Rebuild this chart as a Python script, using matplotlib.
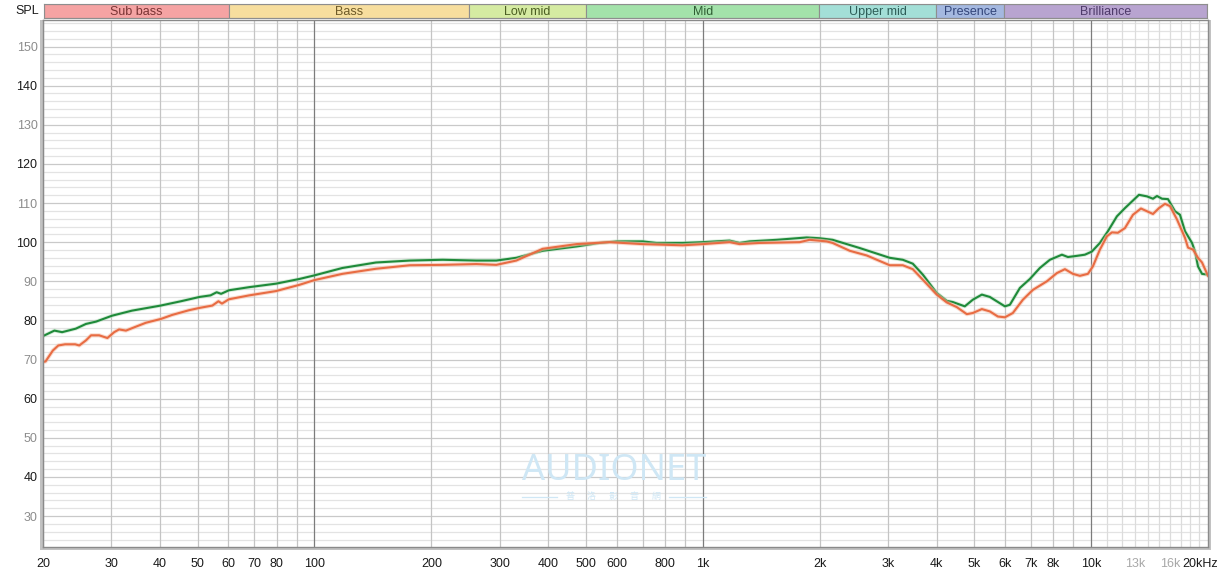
import numpy as np
import matplotlib
matplotlib.use('Agg')
import matplotlib.pyplot as plt
from matplotlib.transforms import ScaledTranslation

# ---------------- data ----------------
green_freq = [20, 21.4, 22.4, 24.3, 25.8, 27.4, 30.1, 33.9, 40.2, 45.3, 50.6, 54.0, 56.0, 57.5, 60.2,
              67.9, 79.7, 91.5, 99.9, 118, 144, 176, 214, 261, 294, 331, 387, 473, 542, 600, 700,
              760, 887, 1000, 1172, 1244, 1320, 1550, 1852, 2000, 2160, 2536, 3030, 3274, 3474,
              3687, 4004, 4250, 4404, 4729, 4960, 5232, 5486, 5998, 6178, 6556, 6956, 7379, 7832,
              8411, 8716, 9193, 9638, 10046, 10535, 11048, 11654, 12222, 12742, 13282, 13928,
              14432, 14780, 15224, 15776, 16444, 16938, 17450, 18192, 18518, 18850, 19304, 20000]
green_db = [76.0, 77.4, 77.0, 77.9, 79.1, 79.7, 81.2, 82.5, 83.8, 84.9, 86.0, 86.4, 87.2, 86.8, 87.7,
            88.5, 89.4, 90.6, 91.5, 93.4, 94.8, 95.3, 95.5, 95.3, 95.3, 96.0, 97.8, 98.9, 99.8, 100.2, 100.2,
            99.8, 99.8, 100.0, 100.4, 99.8, 100.2, 100.6, 101.2, 101.0, 100.6, 98.5, 96.0, 95.5, 94.5,
            91.7, 87.0, 85.0, 84.7, 83.6, 85.3, 86.6, 86.0, 83.6, 84.0, 88.3, 90.6, 93.4, 95.5,
            96.8, 96.2, 96.5, 96.8, 97.6, 99.8, 102.8, 106.6, 108.7, 110.4, 112.1, 111.7,
            111.1, 111.8, 111.1, 111.0, 107.9, 107.0, 102.8, 99.8, 97.6, 93.8, 91.9, 91.7]

orange_freq = [20, 20.3, 21.2, 21.9, 22.8, 24.2, 24.8, 25.8, 26.6, 27.9, 29.3, 30.5, 31.4, 32.7, 35.3,
               36.8, 40.3, 43.0, 47.5, 50.6, 54.6, 56.6, 57.8, 60.2, 67.9, 79.6, 91.5, 99.9, 118, 144,
               176, 214, 261, 294, 331, 387, 473, 575, 700, 887, 1000, 1172, 1244, 1401, 1776, 1885,
               2084, 2160, 2390, 2644, 3030, 3274, 3474, 3687, 4004, 4250, 4510, 4786, 4960, 5232,
               5486, 5754, 5998, 6288, 6674, 7080, 7694, 8164, 8562, 8978, 9358, 9812, 10106, 10535,
               10982, 11314, 11722, 12222, 12818, 13440, 13928, 14432, 14956, 15498, 15964, 16642,
               17450, 17766, 18300, 18850, 19304, 20000]
orange_db = [69.4, 69.5, 72.3, 73.6, 73.9, 73.9, 73.6, 74.9, 76.2, 76.2, 75.5, 77.0, 77.7, 77.4, 78.7,
             79.4, 80.4, 81.4, 82.6, 83.2, 83.8, 84.9, 84.3, 85.4, 86.4, 87.5, 89.1, 90.3, 91.9, 93.2,
             94.1, 94.2, 94.4, 94.2, 95.3, 98.3, 99.5, 100.0, 99.5, 99.2, 99.5, 100.0, 99.5, 99.8, 100.0, 100.6,
             100.2, 99.8, 97.8, 96.6, 94.1, 94.1, 93.1, 90.4, 86.6, 84.6, 83.4, 81.6, 81.9, 82.9,
             82.3, 81.0, 80.8, 81.9, 85.3, 87.8, 90.0, 92.1, 93.1, 91.9, 91.4, 91.9, 93.8, 98.1,
             101.5, 102.5, 102.4, 103.6, 107.0, 108.6, 107.9, 107.2, 108.7, 109.8, 109.2, 105.8,
             101.1, 98.6, 98.1, 96.0, 94.8, 91.4]

band_names = ['Sub bass', 'Bass', 'Low mid', 'Mid', 'Upper mid', 'Presence', 'Brilliance']
band_edges = [20, 60, 250, 500, 2000, 4000, 6000, 20000]
band_colors = ['#F5A3A3', '#F7DE9E', '#D5EBA2', '#A3E2AA', '#A3DFD7', '#A4B8E0', '#B8A4D0']
band_text_colors = ['#7A3434', '#6E5A28', '#4A5E22', '#2F5E34', '#2E5E58', '#34467A', '#4E3A6A']

xtick_vals = [20, 30, 40, 50, 60, 70, 80, 100, 200, 300, 400, 500, 600, 800, 1000, 2000, 3000,
              4000, 5000, 6000, 7000, 8000, 10000, 13000, 16000, 20000]
xtick_labels = ['20', '30', '40', '50', '60', '70', '80', '100', '200', '300', '400', '500', '600',
                '800', '1k', '2k', '3k', '4k', '5k', '6k', '7k', '8k', '10k', '13k', '16k', '20kHz']
ytick_vals = [30, 40, 50, 60, 70, 80, 90, 100, 110, 120, 130, 140, 150]

# ---------------- layout ----------------
W, H = 1229, 575
FONT = 'Liberation Sans'
plt.rcParams['font.family'] = [FONT, 'DejaVu Sans']

fig = plt.figure(figsize=(W / 100, H / 100), dpi=100)
fig.patch.set_facecolor('white')

def fx(px):
    return px / W

def fy(py):
    return 1 - py / H

L, R, T, B = 43, 1208, 19.5, 547

# shadow behind plot frame
shadow = fig.add_axes([fx(L - 3), fy(B + 3), fx(R + 3) - fx(L - 3), fy(T) - fy(B + 3)])
shadow.set_facecolor('#C2C2C2')
shadow.set_xticks([]); shadow.set_yticks([])
for s in shadow.spines.values():
    s.set_visible(False)

ax = fig.add_axes([fx(L), fy(B), fx(R) - fx(L), fy(T) - fy(B)])
ax.set_facecolor('white')
ax.set_xscale('log')
ax.set_xlim(20, 20000)
ax.set_ylim(22.1, 156.9)

# grid: horizontal
for v in range(24, 157, 2):
    if v % 10 == 0:
        ax.axhline(v, color='#C9C9C9', lw=0.9, zorder=1)
    else:
        ax.axhline(v, color='#E3E3E3', lw=0.9, zorder=0.5)
# grid: vertical
for dec in [10, 100, 1000]:
    for m in range(2, 10):
        ax.axvline(m * dec, color='#C4C4C4', lw=0.9, zorder=1)
for f in [100, 1000, 10000]:
    ax.axvline(f, color='#7C7C7C', lw=0.9, zorder=1.2)
for f in range(11000, 20000, 1000):
    ax.axvline(f, color='#DCDCDC', lw=0.9, zorder=0.8)

# curves
ax.plot(green_freq, green_db, color='#A8D8B0', lw=2.8, alpha=0.45, zorder=3, solid_capstyle='round')
ax.plot(green_freq, green_db, color='#1F8A3A', lw=1.5, zorder=4, solid_joinstyle='round')
ax.plot(orange_freq, orange_db, color='#F7BFA8', lw=3.0, alpha=0.55, zorder=5, solid_capstyle='round')
ax.plot(orange_freq, orange_db, color='#E86C43', lw=1.5, zorder=6, solid_joinstyle='round')

# ticks
ax.set_xticks(xtick_vals)
ax.set_xticklabels(xtick_labels)
ax.minorticks_off()
ax.set_yticks(ytick_vals)
ax.set_yticklabels([str(v) for v in ytick_vals])
ax.tick_params(axis='both', length=0, labelsize=9)
ax.tick_params(axis='x', pad=8.0)
ax.tick_params(axis='y', pad=4)
for lab, v in zip(ax.get_yticklabels(), ytick_vals):
    lab.set_color('#1A1A1A' if v % 20 == 0 else '#8C8C8C')
for lab, t in zip(ax.get_xticklabels(), xtick_labels):
    lab.set_color('#A8A8A8' if t in ('13k', '16k') else '#1A1A1A')
    if t == '20kHz':
        lab.set_transform(lab.get_transform() + ScaledTranslation(-0.08, 0, fig.dpi_scale_trans))

for s in ax.spines.values():
    s.set_color('#8A8A8A')
    s.set_linewidth(1.0)
    s.set_zorder(10)

# band bar
bax = fig.add_axes([fx(L + 1), fy(18), fx(R - 1) - fx(L + 1), fy(4) - fy(18)])
bax.set_xscale('log')
bax.set_xlim(20, 20000)
bax.set_ylim(0, 1)
bax.set_xticks([]); bax.set_yticks([])
bax.minorticks_off()
for i, name in enumerate(band_names):
    lo, hi = band_edges[i], band_edges[i + 1]
    bax.axvspan(lo, hi, facecolor=band_colors[i], edgecolor='#8E8E8E', lw=0.8)
    bax.text(np.sqrt(lo * hi), 0.45, name, ha='center', va='center', fontsize=9,
             color=band_text_colors[i])
for s in bax.spines.values():
    s.set_color('#8E8E8E')
    s.set_linewidth(0.8)

fig.text(fx(27), fy(10.5), 'SPL', ha='center', va='center', fontsize=9, color='#1A1A1A')

# watermark
wm_color = '#CFE7F5'
fig.text(fx(614), fy(471), 'AUDIONET', ha='center', va='center', fontsize=26,
         family=['Noto Sans', 'DejaVu Sans'], fontweight='light', color=wm_color, zorder=20)
wm_chars = ['普', '洛', '影', '音', '網']
for xp, ch in zip(np.linspace(570, 656, len(wm_chars)), wm_chars):
    fig.text(fx(xp), fy(497), ch, ha='center', va='center', fontsize=6.5,
             family=['Noto Sans CJK TC', 'DejaVu Sans'], color=wm_color, zorder=20)
fig.add_artist(plt.Line2D([fx(522), fx(557)], [fy(497), fy(497)], color=wm_color, lw=0.9))
fig.add_artist(plt.Line2D([fx(669), fx(706)], [fy(497), fy(497)], color=wm_color, lw=0.9))

fig.savefig('out.png', dpi=100, facecolor='white')
